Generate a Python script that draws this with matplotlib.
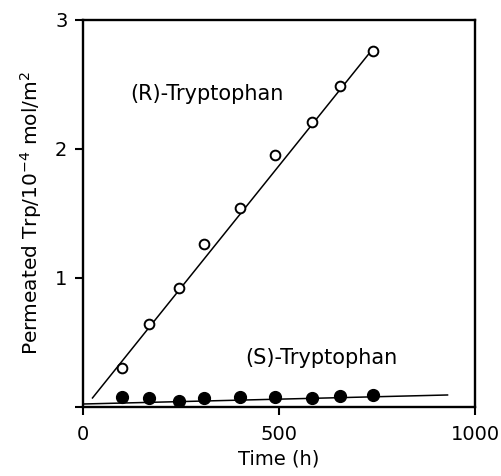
import matplotlib
matplotlib.use("Agg")
import matplotlib.pyplot as plt

# sampling times (h)
time_h = [100, 170, 245, 310, 400, 490, 585, 655, 740]
# permeated amount, 10^-4 mol/m^2
r_trp = [0.30, 0.64, 0.92, 1.26, 1.54, 1.95, 2.21, 2.49, 2.76]
s_trp = [0.075, 0.067, 0.049, 0.067, 0.080, 0.075, 0.072, 0.088, 0.093]

# fitted lines (end points)
r_fit_t = [25, 730]
r_fit = [0.07, 2.74]
s_fit_t = [0, 930]
s_fit = [0.023, 0.093]

plt.rcParams['font.family'] = ['DejaVu Sans']

fig = plt.figure(figsize=(5.02, 4.76), dpi=100)
ax = fig.add_axes([0.1647, 0.145, 0.7815, 0.813])

ax.plot(r_fit_t, r_fit, color="black", lw=1.1)
ax.plot(s_fit_t, s_fit, color="black", lw=1.1)
ax.plot(time_h, r_trp, "o", ms=7, mfc="white", mec="black", mew=1.4)
ax.plot(time_h, s_trp, "o", ms=8.5, mfc="black", mec="black")

ax.text(120, 2.43, "(R)-Tryptophan", fontsize=15, va="center", ha="left")
ax.text(414, 0.38, "(S)-Tryptophan", fontsize=15, va="center", ha="left")

ax.set_xlim(0, 1000)
ax.set_ylim(0, 3)
ax.set_xticks([0, 500, 1000])
ax.set_yticks([0, 1, 2, 3])
ax.set_yticklabels(["", "1", "2", "3"])
ax.tick_params(direction="out", length=6, width=1.5, labelsize=14)
ax.tick_params(axis="x", pad=7)
ax.tick_params(axis="y", pad=5)
for sp in ax.spines.values():
    sp.set_linewidth(1.7)

ax.set_xlabel("Time (h)", fontsize=14, labelpad=4)
ax.set_ylabel("Permeated Trp/10$^{-4}$ mol/m$^2$", fontsize=14.5, labelpad=8)

fig.savefig("out.png", dpi=100)
